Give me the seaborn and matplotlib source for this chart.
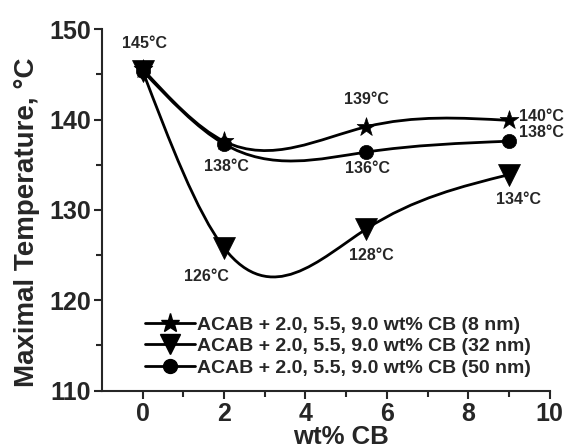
import numpy as np
import pandas as pd
import matplotlib
matplotlib.use("Agg")
import matplotlib.pyplot as plt
import seaborn as sns
from matplotlib.path import Path
from matplotlib.patches import PathPatch
from matplotlib.lines import Line2D

# data
wt_cb = [0, 2, 5.5, 9]
t_8nm = [145.6, 137.6, 139.2, 139.9]
t_32nm = [145.4, 125.8, 127.9, 133.9]
t_50nm = [145.4, 137.3, 136.4, 137.6]
labels = ["ACAB + 2.0, 5.5, 9.0 wt% CB (8 nm)",
          "ACAB + 2.0, 5.5, 9.0 wt% CB (32 nm)",
          "ACAB + 2.0, 5.5, 9.0 wt% CB (50 nm)"]
notes = ["145°C", "138°C", "139°C", "140°C", "138°C", "136°C", "134°C", "128°C", "126°C"]
note_x = [0.05, 2.06, 5.49, 9.81, 9.81, 5.53, 9.23, 5.62, 1.57]
note_y = [148.4, 134.8, 142.2, 140.3, 138.6, 134.6, 131.1, 125.0, 122.6]

sns.set_style("ticks")
plt.rcParams['font.family'] = ['Liberation Sans', 'DejaVu Sans']
plt.rcParams['font.weight'] = 'bold'


def spline_path(x, y):
    # natural cubic spline through the points, drawn as bezier segments
    x = np.asarray(x, float)
    y = np.asarray(y, float)
    n = len(x)
    h = np.diff(x)
    A = np.zeros((n, n))
    b = np.zeros(n)
    A[0, 0] = A[-1, -1] = 1
    for i in range(1, n - 1):
        A[i, i - 1] = h[i - 1]
        A[i, i] = 2 * (h[i - 1] + h[i])
        A[i, i + 1] = h[i]
        b[i] = 6 * ((y[i + 1] - y[i]) / h[i] - (y[i] - y[i - 1]) / h[i - 1])
    M = np.linalg.solve(A, b)
    verts = [(x[0], y[0])]
    codes = [Path.MOVETO]
    for i in range(n - 1):
        s = (y[i + 1] - y[i]) / h[i]
        m0 = s - h[i] * (2 * M[i] + M[i + 1]) / 6
        m1 = s + h[i] * (M[i] + 2 * M[i + 1]) / 6
        verts += [(x[i] + h[i] / 3, y[i] + m0 * h[i] / 3),
                  (x[i + 1] - h[i] / 3, y[i + 1] - m1 * h[i] / 3),
                  (x[i + 1], y[i + 1])]
        codes += [Path.CURVE4] * 3
    return Path(verts, codes)


fig = plt.figure(figsize=(5.69, 4.48), dpi=100)
ax = fig.add_axes([0.179, 0.128, 0.787, 0.807])

series = [(t_8nm, '*', 200), (t_32nm, 'v', 250), (t_50nm, 'o', 105)]
for vals, mk, size in series:
    ax.add_patch(PathPatch(spline_path(wt_cb, vals), fill=False, lw=2, ec='black', zorder=2))
for vals, mk, size in reversed(series):
    df = pd.DataFrame({'x': wt_cb, 'y': vals})
    sns.scatterplot(data=df, x='x', y='y', marker=mk, s=size, color='black',
                    edgecolor='black', linewidth=0.5, ax=ax, zorder=3, legend=False)

for t, xx, yy in zip(notes, note_x, note_y):
    ax.text(xx, yy, t, ha='center', va='center', fontsize=11.5, fontweight='bold')

handles = [Line2D([], [], color='black', lw=2, marker='*', ms=14),
           Line2D([], [], color='black', lw=2, marker='v', ms=15),
           Line2D([], [], color='black', lw=2, marker='o', ms=10)]
leg = ax.legend(handles, labels, loc='center left', bbox_to_anchor=(0.05, 114.9),
                bbox_transform=ax.transData, frameon=False, borderpad=0, borderaxespad=0,
                handlelength=2.6, handletextpad=0.1, labelspacing=0.2,
                prop={'size': 14, 'weight': 'bold'})

ax.set_xlim(-1, 10)
ax.set_ylim(110, 150)
ax.set_xticks([0, 2, 4, 6, 8, 10])
ax.set_xticks([1, 3, 5, 7, 9], minor=True)
ax.set_yticks([110, 120, 130, 140, 150])
ax.set_yticks([115, 125, 135, 145], minor=True)
ax.tick_params(which='major', direction='out', length=6, width=1.5, labelsize=18, pad=2)
ax.tick_params(which='minor', direction='out', length=4, width=1.5)
for lab in ax.get_xticklabels() + ax.get_yticklabels():
    lab.set_fontweight('bold')
ax.set_xlabel('wt% CB', fontsize=18.5, fontweight='bold')
ax.set_ylabel('Maximal Temperature, °C', fontsize=20, fontweight='bold')
ax.xaxis.set_label_coords(0.533, -0.094)
ax.yaxis.set_label_coords(-0.138, 0.465)
sns.despine(ax=ax)
for sp in ['left', 'bottom']:
    ax.spines[sp].set_linewidth(1.5)

fig.savefig('out.png', dpi=100)
